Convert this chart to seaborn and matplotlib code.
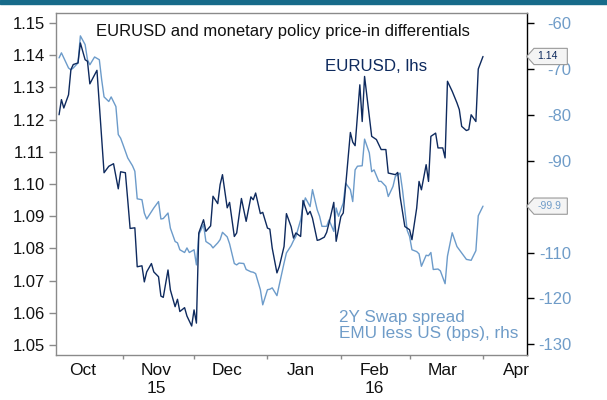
import matplotlib
matplotlib.use("Agg")
import matplotlib.pyplot as plt
import matplotlib.transforms as mtransforms
from matplotlib.path import Path
import pandas as pd
import seaborn as sns

# ---------------- data ----------------
eur_dates = ["2015-10-05", "2015-10-06", "2015-10-07", "2015-10-09", "2015-10-10", "2015-10-11",
             "2015-10-13", "2015-10-14", "2015-10-16", "2015-10-17", "2015-10-18", "2015-10-20",
             "2015-10-21", "2015-10-24", "2015-10-26", "2015-10-28", "2015-10-30", "2015-10-31",
             "2015-11-02", "2015-11-03", "2015-11-04", "2015-11-06", "2015-11-07", "2015-11-09",
             "2015-11-10", "2015-11-11", "2015-11-13", "2015-11-14", "2015-11-16", "2015-11-17",
             "2015-11-18", "2015-11-20", "2015-11-21", "2015-11-23", "2015-11-24", "2015-11-25",
             "2015-11-27", "2015-11-28", "2015-11-30", "2015-12-01", "2015-12-02", "2015-12-03",
             "2015-12-05", "2015-12-06", "2015-12-08", "2015-12-09", "2015-12-11", "2015-12-12",
             "2015-12-13", "2015-12-15", "2015-12-16", "2015-12-18", "2015-12-19", "2015-12-21",
             "2015-12-23", "2015-12-25", "2015-12-26", "2015-12-27", "2015-12-29", "2015-12-30",
             "2016-01-01", "2016-01-02", "2016-01-03", "2016-01-05", "2016-01-06", "2016-01-08",
             "2016-01-09", "2016-01-11", "2016-01-12", "2016-01-13", "2016-01-15", "2016-01-16",
             "2016-01-18", "2016-01-19", "2016-01-20", "2016-01-22", "2016-01-23", "2016-01-25",
             "2016-01-26", "2016-01-27", "2016-01-29", "2016-01-30", "2016-02-01", "2016-02-02",
             "2016-02-03", "2016-02-05", "2016-02-06", "2016-02-07", "2016-02-09", "2016-02-10",
             "2016-02-11", "2016-02-14", "2016-02-16", "2016-02-18", "2016-02-20", "2016-02-21",
             "2016-02-24", "2016-02-25", "2016-02-26", "2016-02-28", "2016-03-01", "2016-03-02",
             "2016-03-04", "2016-03-05", "2016-03-06", "2016-03-08", "2016-03-09", "2016-03-10",
             "2016-03-12", "2016-03-13", "2016-03-15", "2016-03-16", "2016-03-17", "2016-03-19",
             "2016-03-21", "2016-03-22", "2016-03-23", "2016-03-25", "2016-03-26", "2016-03-27",
             "2016-03-29", "2016-03-30", "2016-04-01"]
eur_values = [1.1215, 1.1262, 1.1236, 1.1277, 1.1355, 1.1371,
              1.1376, 1.1438, 1.1386, 1.1381, 1.1311, 1.1339,
              1.1353, 1.1035, 1.1055, 1.1063, 1.0985, 1.1038,
              1.1035, 1.0950, 1.0862, 1.0864, 1.0743, 1.0746,
              1.0696, 1.0727, 1.0753, 1.0727, 1.0712, 1.0652,
              1.0648, 1.0733, 1.0671, 1.0619, 1.0642, 1.0604,
              1.0616, 1.0590, 1.0559, 1.0609, 1.0568, 1.0848,
              1.0889, 1.0853, 1.0870, 1.0962, 1.0939, 1.0998,
              1.1029, 1.0926, 1.0943, 1.0837, 1.0848, 1.0955,
              1.0884, 1.0960, 1.0951, 1.0972, 1.0908, 1.0912,
              1.0863, 1.0860, 1.0801, 1.0724, 1.0744, 1.0806,
              1.0908, 1.0867, 1.0832, 1.0848, 1.0837, 1.0949,
              1.0905, 1.0915, 1.0894, 1.0825, 1.0827, 1.0835,
              1.0850, 1.0879, 1.0943, 1.0822, 1.0899, 1.0910,
              1.0993, 1.1160, 1.1130, 1.1119, 1.1308, 1.1194,
              1.1334, 1.1148, 1.1138, 1.1107, 1.1107, 1.1034,
              1.1029, 1.1036, 1.0961, 1.0868, 1.0858, 1.0827,
              1.0925, 1.1008, 1.0982, 1.1060, 1.1008, 1.1148,
              1.1158, 1.1112, 1.1112, 1.1081, 1.1319, 1.1288,
              1.1252, 1.1231, 1.1179, 1.1166, 1.1169, 1.1215,
              1.1194, 1.1357, 1.1396]

swap_dates = ["2015-10-05", "2015-10-06", "2015-10-07", "2015-10-09", "2015-10-10", "2015-10-11",
              "2015-10-13", "2015-10-14", "2015-10-16", "2015-10-17", "2015-10-18", "2015-10-20",
              "2015-10-22", "2015-10-23", "2015-10-24", "2015-10-26", "2015-10-27", "2015-10-29",
              "2015-10-30", "2015-10-31", "2015-11-01", "2015-11-03", "2015-11-05", "2015-11-06",
              "2015-11-07", "2015-11-09", "2015-11-10", "2015-11-11", "2015-11-13", "2015-11-14",
              "2015-11-16", "2015-11-17", "2015-11-18", "2015-11-20", "2015-11-21", "2015-11-23",
              "2015-11-24", "2015-11-25", "2015-11-27", "2015-11-28", "2015-11-29", "2015-12-01",
              "2015-12-02", "2015-12-03", "2015-12-05", "2015-12-06", "2015-12-08", "2015-12-09",
              "2015-12-11", "2015-12-12", "2015-12-13", "2015-12-15", "2015-12-16", "2015-12-18",
              "2015-12-19", "2015-12-20", "2015-12-22", "2015-12-23", "2015-12-25", "2015-12-26",
              "2015-12-27", "2015-12-29", "2015-12-30", "2016-01-01", "2016-01-02", "2016-01-03",
              "2016-01-05", "2016-01-06", "2016-01-08", "2016-01-09", "2016-01-11", "2016-01-12",
              "2016-01-13", "2016-01-15", "2016-01-16", "2016-01-17", "2016-01-19", "2016-01-20",
              "2016-01-22", "2016-01-23", "2016-01-24", "2016-01-26", "2016-01-27", "2016-01-29",
              "2016-01-30", "2016-01-31", "2016-02-02", "2016-02-03", "2016-02-05", "2016-02-06",
              "2016-02-07", "2016-02-08", "2016-02-10", "2016-02-11", "2016-02-13", "2016-02-14",
              "2016-02-15", "2016-02-17", "2016-02-18", "2016-02-20", "2016-02-21", "2016-02-23",
              "2016-02-24", "2016-02-26", "2016-02-27", "2016-02-29", "2016-03-01", "2016-03-02",
              "2016-03-04", "2016-03-05", "2016-03-06", "2016-03-08", "2016-03-09", "2016-03-10",
              "2016-03-11", "2016-03-13", "2016-03-14", "2016-03-16", "2016-03-17", "2016-03-19",
              "2016-03-21", "2016-03-23", "2016-03-25", "2016-03-27", "2016-03-29", "2016-03-30",
              "2016-04-01"]
swap_values = [-67.6, -66.5, -67.6, -69.8, -70.2, -69.8,
               -68.7, -62.8, -64.7, -68.0, -69.1, -67.4,
               -68.0, -72.4, -76.1, -77.1, -76.1, -78.2,
               -84.3, -85.1, -86.5, -89.4, -91.1, -92.3,
               -98.3, -98.5, -101.4, -102.7, -101.1, -100.3,
               -98.9, -102.7, -102.6, -101.4, -104.7, -107.6,
               -107.9, -109.4, -110.0, -109.0, -110.0, -109.4,
               -112.7, -106.1, -103.9, -107.6, -108.3, -109.0,
               -107.9, -107.2, -105.6, -106.6, -108.1, -112.4,
               -112.7, -112.3, -112.4, -113.7, -114.2, -114.3,
               -114.6, -118.1, -121.4, -118.1, -118.0, -117.7,
               -119.4, -117.0, -112.3, -110.1, -108.5, -107.4,
               -106.5, -102.9, -100.0, -98.1, -100.0, -96.3,
               -100.7, -102.1, -104.3, -104.3, -102.9, -105.4,
               -100.3, -102.1, -99.2, -94.9, -96.3, -98.9,
               -92.0, -91.2, -91.1, -85.3, -88.3, -92.4,
               -92.0, -94.5, -94.5, -95.6, -97.8, -95.6,
               -93.4, -92.7, -96.3, -105.2, -106.5, -109.4,
               -109.8, -110.3, -113.0, -110.6, -110.7, -110.0,
               -113.7, -113.6, -114.0, -116.8, -110.8, -105.7,
               -108.7, -110.1, -111.5, -111.7, -109.6, -102.0,
               -99.9]

month_label_dates = ["2015-10-15", "2015-11-15", "2015-12-15", "2016-01-15",
                     "2016-02-15", "2016-03-15", "2016-04-15"]
month_labels = ["Oct", "Nov\n15", "Dec", "Jan", "Feb\n16", "Mar", "Apr"]
month_starts = ["2015-11-01", "2015-12-01", "2016-01-01", "2016-02-01",
                "2016-03-01", "2016-04-01"]
left_ticks = [1.05, 1.06, 1.07, 1.08, 1.09, 1.10, 1.11, 1.12, 1.13, 1.14, 1.15]
left_tick_labels = ["1.05", "1.06", "1.07", "1.08", "1.09", "1.10",
                    "1.11", "1.12", "1.13", "1.14", "1.15"]
right_ticks = [-130, -120, -110, -100, -90, -80, -70, -60]
# the -100 label is hidden behind the last-value tag in the reference
right_tick_labels = ["-130", "-120", "-110", "", "-90", "-80", "-70", "-60"]

title_text = "EURUSD and monetary policy price-in differentials"
eur_name = "EURUSD, lhs"
swap_name = "2Y Swap spread\nEMU less US (bps), rhs"
eur_last_label = "1.14"
swap_last_label = "-99.9"

# ---------------- style ----------------
sns.set_theme(style="white")
plt.rcParams["font.family"] = ["Liberation Sans", "DejaVu Sans"]

NAVY = "#0e2a5e"
LIGHT = "#6c9bca"
LIGHT_TXT = "#6f9cc8"
GREY = "#8a8a8a"

fig = plt.figure(figsize=(6.07, 4.0), dpi=100)
fig.patch.set_facecolor("white")
ax = fig.add_axes([56 / 607, 45 / 400, 471 / 607, 342 / 400])
ax2 = ax.twinx()

eur_df = pd.DataFrame({"date": pd.to_datetime(eur_dates), "value": eur_values})
swap_df = pd.DataFrame({"date": pd.to_datetime(swap_dates), "value": swap_values})

sns.lineplot(data=swap_df, x="date", y="value", ax=ax2, color=LIGHT, linewidth=1.0)
sns.lineplot(data=eur_df, x="date", y="value", ax=ax, color=NAVY, linewidth=1.0)

# dark line on top of the light one
ax.set_zorder(ax2.get_zorder() + 1)
ax.patch.set_visible(False)
ax2.patch.set_visible(True)
ax2.patch.set_facecolor("white")

ax.set_xlim(pd.Timestamp("2015-10-03 17:00"), pd.Timestamp("2016-04-19 14:00"))
ax.set_ylim(1.0469, 1.1531)
ax2.set_ylim(-132.33, -57.82)

for a in (ax, ax2):
    a.set_xlabel("")
    a.set_ylabel("")
    a.grid(False)

# spines
for side in ("left", "top", "bottom"):
    ax.spines[side].set_color(GREY)
    ax.spines[side].set_linewidth(1.0)
ax.spines["right"].set_visible(False)
for side in ("left", "top", "bottom"):
    ax2.spines[side].set_visible(False)
ax2.spines["right"].set_color("black")
ax2.spines["right"].set_linewidth(1.0)

# x ticks
ax.set_xticks(pd.to_datetime(month_label_dates))
ax.set_xticklabels(month_labels, fontsize=12.5, color="#111111", linespacing=1.2)
ax.set_xticks(pd.to_datetime(month_starts), minor=True)
ax.tick_params(axis="x", which="major", bottom=True, length=0, pad=6)
ax.tick_params(axis="x", which="minor", bottom=True, length=3, width=1, color=GREY, direction="out")

# left y ticks
ax.set_yticks(left_ticks)
ax.set_yticklabels(left_tick_labels, fontsize=12, color="#111111")
ax.tick_params(axis="y", which="major", left=True, length=5, width=1, color=GREY, pad=3, direction="out")

# right y ticks (right-aligned labels)
ax2.set_yticks(right_ticks)
ax2.set_yticklabels(right_tick_labels, fontsize=12, color=LIGHT_TXT, ha="right")
ax2.tick_params(axis="y", which="major", right=True, length=5, width=1, color="black", pad=27, direction="out")

# texts
ax.text(0.085, 0.969, title_text, transform=ax.transAxes, ha="left", va="top",
        fontsize=12, color="#111111")
ax.text(0.571, 0.845, eur_name, transform=ax.transAxes, ha="left", va="center",
        fontsize=12.2, color=NAVY)
ax.text(0.601, 0.087, swap_name, transform=ax.transAxes, ha="left", va="center",
        fontsize=12.3, color=LIGHT_TXT, linespacing=1.1)


# last-value tags
def tag_box(x0, y0, width, height, mutation_size):
    padl = 0.3 * mutation_size
    padv = 0.3 * mutation_size
    box_w = 3.2 * mutation_size
    tip = 0.7 * mutation_size
    left = x0 - padl
    bottom = y0 - padv
    top = y0 + height + padv
    right = left + box_w
    mid = (bottom + top) / 2
    return Path([(left - tip, mid), (left, top), (right, top), (right, bottom),
                 (left, bottom), (left - tip, mid)], closed=True)


tr_left = mtransforms.blended_transform_factory(ax.transAxes, ax.transData)
tr_right = mtransforms.blended_transform_factory(ax.transAxes, ax2.transData)
ax.text(1.0215, eur_values[-1], eur_last_label, transform=tr_left, ha="left", va="center",
        fontsize=7.5, color=NAVY, clip_on=False, zorder=20,
        bbox=dict(boxstyle=tag_box, fc="#f4f4f4", ec="#9a9a9a", lw=0.8))
ax.text(1.0215, swap_values[-1], swap_last_label, transform=tr_right, ha="left", va="center",
        fontsize=7.5, color=LIGHT_TXT, clip_on=False, zorder=20,
        bbox=dict(boxstyle=tag_box, fc="#f4f4f4", ec="#9a9a9a", lw=0.8))

# top band
fig.add_artist(plt.Rectangle((0, 1 - 4 / 400), 1, 4 / 400, transform=fig.transFigure,
                             color="#176b8a", zorder=5))

fig.savefig("out.png", dpi=100, facecolor="white")
